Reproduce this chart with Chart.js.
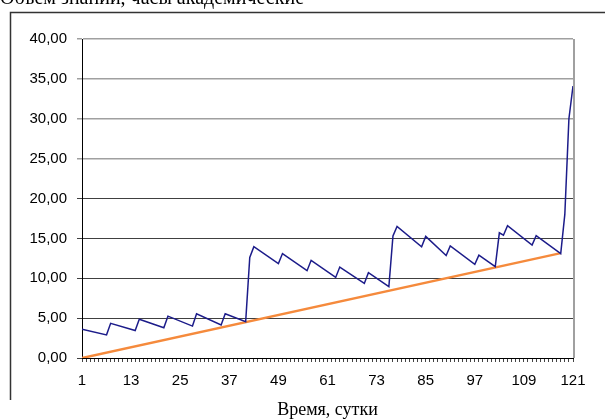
<!DOCTYPE html>
<html>
<head>
<meta charset="utf-8">
<script src="https://cdn.jsdelivr.net/npm/chart.js@4.4.1/dist/chart.umd.min.js"></script>
<style>
  html, body { margin: 0; padding: 0; background: #fff; }
  #wrap { position: relative; width: 605px; height: 419px; }
</style>
</head>
<body>
<div id="wrap"><canvas id="chart" width="605" height="419"></canvas></div>
<script>
// knowledge volume (blue) - turning points
const days = [1, 7, 8, 14, 15, 21, 22, 28, 29, 35, 36, 41, 42, 43, 49, 50, 56, 57, 63, 64,
  70, 71, 76, 77, 78, 84, 85, 90, 91, 97, 98, 102, 103, 104, 105, 111, 112, 118, 119, 120, 121];
const knowledge = [3.6, 2.9, 4.35, 3.45, 4.85, 3.8, 5.25, 4.0, 5.55, 4.15, 5.55, 4.55, 12.6, 13.95, 11.85, 13.1, 10.95, 12.25, 10.1, 11.4,
  9.35, 10.7, 8.95, 15.3, 16.5, 13.95, 15.25, 12.85, 14.05, 11.75, 12.9, 11.45, 15.7, 15.4, 16.6, 14.15, 15.35, 13.1, 18.0, 30.0, 34.1];
// baseline (orange)
const baseDays = [1, 118];
const baseline = [0, 13.15];

const xMin = 1, xMax = 121, xLabelStep = 12;
const yMin = 0, yMax = 40, yStep = 5;

const chartTitle = "Объем знаний, часы академические";
const xTitle = "Время, сутки";

const toPoints = (xs, ys) => xs.map((x, i) => ({ x: x, y: ys[i] }));

// frame, clipped title and plot right border
const decor = {
  id: "decor",
  beforeDraw(chart) {
    const ctx = chart.ctx;
    ctx.save();
    ctx.fillStyle = "#fff";
    ctx.fillRect(0, 0, chart.width, chart.height);
    ctx.strokeStyle = "#333";
    ctx.lineWidth = 1.5;
    ctx.beginPath();
    ctx.moveTo(10.5, 400);
    ctx.lineTo(10.5, 12.5);
    ctx.lineTo(605, 12.5);
    ctx.stroke();
    ctx.fillStyle = "#000";
    ctx.font = '20px "Liberation Serif"';
    ctx.textBaseline = "alphabetic";
    ctx.fillText(chartTitle, 0, 4);
    ctx.restore();
  },
  afterDatasetsDraw(chart) {
    const { ctx, chartArea } = chart;
    ctx.save();
    ctx.strokeStyle = "#a0a0a0";
    ctx.lineWidth = 2;
    ctx.beginPath();
    ctx.moveTo(chartArea.right + 1, chartArea.top);
    ctx.lineTo(chartArea.right + 1, chartArea.bottom);
    ctx.stroke();
    ctx.restore();
  }
};

new Chart(document.getElementById("chart"), {
  type: "line",
  data: {
    datasets: [
      {
        data: toPoints(days, knowledge),
        borderColor: "#1c1c8a",
        borderWidth: 1.5,
        pointRadius: 0,
        tension: 0
      },
      {
        data: toPoints(baseDays, baseline),
        borderColor: "#f58a3c",
        borderWidth: 2.5,
        pointRadius: 0,
        tension: 0
      }
    ]
  },
  options: {
    responsive: false,
    animation: false,
    layout: { padding: { top: 39, right: 32, bottom: 0, left: 0 } },
    plugins: { legend: { display: false }, tooltip: { enabled: false } },
    scales: {
      x: {
        type: "linear",
        min: xMin,
        max: xMax,
        afterFit: s => { s.height = 61; },
        border: { color: "#000", width: 1 },
        grid: { drawOnChartArea: false, drawTicks: true, tickLength: 4, color: "#444" },
        ticks: {
          stepSize: 1,
          autoSkip: false,
          maxRotation: 0,
          padding: 10,
          color: "#000",
          font: { family: "Liberation Sans", size: 15 },
          callback: v => ((v - xMin) % xLabelStep === 0 ? String(v) : "")
        },
        title: {
          display: true,
          text: xTitle,
          color: "#000",
          font: { family: "Liberation Serif", size: 18 },
          padding: { top: 0, bottom: -2 }
        }
      },
      y: {
        min: yMin,
        max: yMax,
        afterFit: s => { s.width = 82; },
        border: { color: "#000", width: 1 },
        grid: {
          tickLength: 5,
          color: c => (c.tick && c.tick.value >= 25 ? "#a0a0a0" : "#404040"),
          lineWidth: c => (c.tick && c.tick.value >= 25 ? 1.5 : 1)
        },
        ticks: {
          stepSize: yStep,
          padding: 10,
          color: "#000",
          font: { family: "Liberation Sans", size: 15 },
          callback: v => v.toFixed(2).replace(".", ",")
        }
      }
    }
  },
  plugins: [decor]
});
</script>
</body>
</html>
